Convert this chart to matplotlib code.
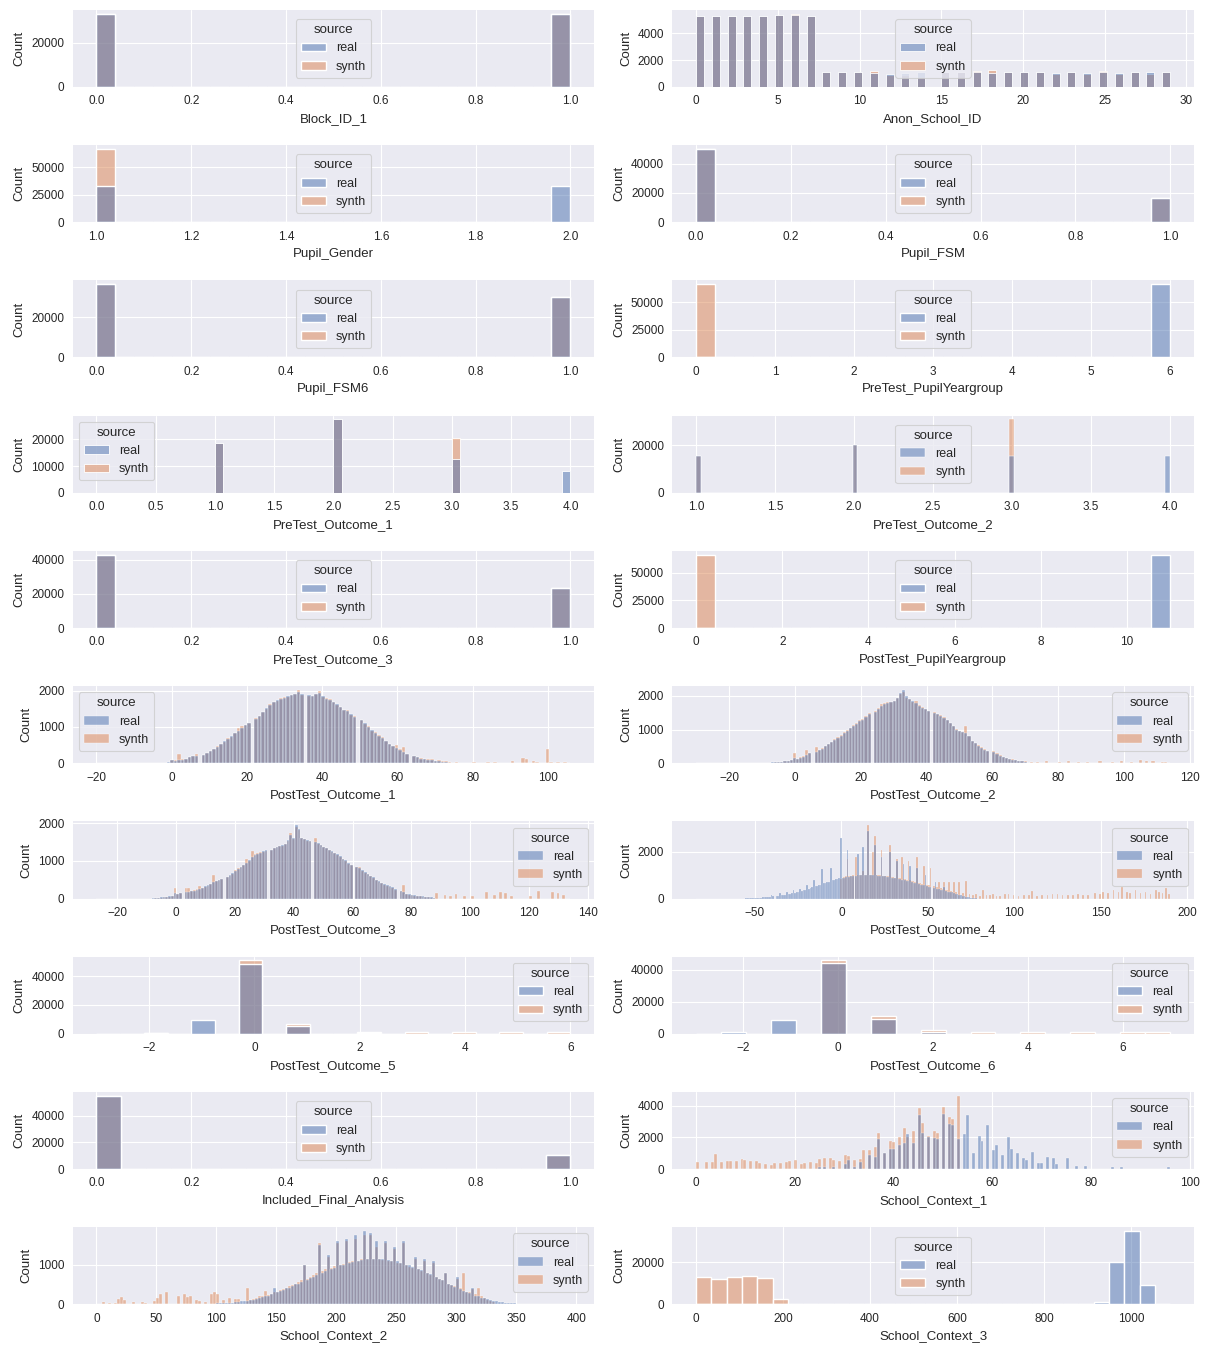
import numpy as np
import matplotlib
matplotlib.use("Agg")
import matplotlib.pyplot as plt
from matplotlib.colors import to_rgba
from matplotlib.patches import Patch

BLUE = "#4C72B0"
ORANGE = "#DD8452"

# ---- binary / small discrete columns ----
block_x = [0, 1]
block_real = [33300, 33300]
block_synth = [33300, 33300]

anon_x = list(range(30))
anon_real = [5300, 5250, 5300, 5300, 5300, 5350, 5350, 5250, 1100, 1100,
             1100, 1050, 1000, 1050, 1100, 1100, 1100, 1100, 1050, 1100,
             1100, 1100, 1050, 1100, 1050, 1100, 1050, 1100, 1100, 1100]
anon_synth = [5300, 5250, 5250, 5300, 5250, 5350, 5450, 5250, 1100, 1100,
              1100, 1200, 900, 900, 750, 1100, 1100, 1200, 1250, 1100,
              1100, 1100, 950, 1100, 950, 1200, 1000, 1100, 950, 1100]

gender_x = [1, 2]
gender_real = [33300, 33300]
gender_synth = [66600, 0]

fsm_x = [0, 1]
fsm_real = [50000, 16500]
fsm_synth = [50000, 16500]

fsm6_x = [0, 1]
fsm6_real = [36500, 30100]
fsm6_synth = [36500, 30100]

pre_year_x = [0, 6]
pre_year_real = [0, 66600]
pre_year_synth = [66600, 0]

pre1_x = [1, 2, 3, 4]
pre1_real = [18500, 27500, 12500, 8000]
pre1_synth = [18500, 27500, 20500, 0]

pre2_x = [1, 2, 3, 4]
pre2_real = [15500, 20000, 15500, 15500]
pre2_synth = [15500, 20000, 31000, 0]

pre3_x = [0, 1]
pre3_real = [43000, 23500]
pre3_synth = [43000, 23500]

post_year_x = [0, 11]
post_year_real = [0, 66600]
post_year_synth = [66600, 0]

# ---- PostTest_Outcome_1 (integer scores, first value at -4) ----
post1_start = -4
post1_real = [5, 10, 15, 30,
              80, 70, 90, 100, 110, 160, 190, 210, 240, 280,
              340, 390, 450, 520, 600, 680, 740, 820, 900, 980,
              1040, 1120, 1230, 1290, 1400, 1520, 1600, 1680, 1740, 1780,
              1800, 1840, 1880, 1900, 1960, 1900, 1880, 1850, 1900, 1930,
              1850, 1780, 1740, 1700, 1620, 1540, 1480, 1430, 1360, 1280,
              1180, 1100, 1000, 920, 840, 760, 690, 600, 520, 470,
              420, 360, 300, 250, 210, 170, 130, 110, 100, 80,
              60, 50, 40, 30, 20, 15]
post1_synth = [0, 5, 10, 20,
               90, 80, 250, 110, 120, 170, 200, 260, 230, 270,
               330, 380, 470, 530, 590, 700, 720, 830, 970, 1020,
               1060, 1100, 1250, 1300, 1420, 1500, 1620, 1700, 1720, 1800,
               1820, 1820, 1870, 1920, 2020, 1880, 1860, 1840, 1920, 1980,
               1830, 1800, 1760, 1680, 1600, 1560, 1470, 1480, 1340, 1300,
               1200, 1080, 1020, 900, 860, 780, 720, 620, 540, 480,
               500, 380, 450, 260, 200, 180, 140, 120, 110, 130,
               70, 100, 50, 60, 30, 20]
post1_tail_x = [76, 78, 80, 84, 86, 91, 93, 94, 96, 97, 100, 101, 103, 105, 106]
post1_tail_c = [30, 20, 30, 40, 30, 60, 150, 120, 60, 40, 400, 40, 30, 40, 20]

# ---- PostTest_Outcome_2 (first value at -10) ----
post2_start = -10
post2_real = [10, 15, 20, 25, 30, 40, 50, 60, 70, 90,
              150, 130, 170, 200, 260, 300, 340, 380, 430, 500,
              560, 620, 700, 760, 820, 900, 950, 1040, 1120, 1180,
              1250, 1300, 1380, 1450, 1530, 1620, 1700, 1760, 1800, 1820,
              1850, 1950, 2100, 2180, 2000, 1920, 1850, 1780, 1700, 1650,
              1600, 1560, 1500, 1450, 1400, 1350, 1300, 1200, 1100, 1000,
              950, 920, 900, 800, 650, 600, 520, 450, 400, 350,
              320, 280, 220, 180, 150, 130, 110, 90, 70, 60, 50]
post2_synth = [0, 10, 15, 20, 30, 35, 45, 55, 80, 100,
               300, 140, 180, 220, 380, 310, 480, 400, 440, 520,
               580, 640, 720, 780, 850, 920, 980, 1060, 1150, 1200,
               1280, 1320, 1400, 1480, 1560, 1640, 1750, 1780, 1810, 1830,
               1860, 1940, 2050, 2120, 1950, 1900, 1830, 1850, 1720, 1660,
               1620, 1560, 1520, 1460, 1420, 1360, 1290, 1210, 1120, 1020,
               960, 940, 1100, 820, 660, 610, 540, 470, 410, 370,
               370, 290, 240, 190, 160, 130, 130, 100, 80, 70, 60]
post2_tail_x = [72, 74, 77, 80, 83, 86, 89, 93, 96, 99, 102, 105, 107, 109, 112, 113]
post2_tail_c = [50, 40, 80, 40, 60, 40, 50, 70, 40, 60, 30, 90, 80, 70, 50, 30]

# ---- PostTest_Outcome_3 (first value at -8) ----
post3_start = -8
post3_real = [10, 15, 20, 30, 40, 50, 60, 80,
              150, 120, 140, 160, 180, 190, 210, 230, 260, 280,
              320, 350, 390, 430, 470, 500, 530, 580, 620, 680,
              730, 780, 830, 880, 950, 1020, 1100, 1150, 1180, 1220,
              1250, 1280, 1300, 1340, 1380, 1400, 1420, 1450, 1550, 1700,
              1600, 1950, 1850, 1620, 1580, 1560, 1540, 1500, 1470, 1430,
              1380, 1350, 1300, 1250, 1220, 1180, 1120, 1060, 1020, 950,
              900, 850, 800, 760, 700, 660, 600, 560, 500, 460,
              420, 380, 350, 320, 300, 250, 200, 160, 130, 110,
              100, 90, 80, 70, 60, 50, 40, 30, 20]
post3_synth = [0, 10, 15, 20, 30, 40, 50, 70,
               270, 110, 150, 290, 290, 200, 220, 240, 330, 270,
               300, 340, 380, 620, 460, 480, 520, 560, 600, 650,
               760, 800, 850, 900, 1050, 1000, 1250, 1180, 1200, 1230,
               1240, 1270, 1290, 1330, 1360, 1390, 1400, 1440, 1520, 1750,
               1580, 1900, 1820, 1600, 1570, 1540, 1530, 1600, 1450, 1410,
               1360, 1330, 1280, 1240, 1200, 1160, 1100, 1040, 1000, 930,
               880, 840, 850, 740, 690, 640, 590, 540, 490, 440,
               400, 360, 330, 300, 270, 230, 190, 350, 120, 100,
               90, 80, 70, 60, 50, 40, 30, 20, 20]
post3_tail_x = [89, 91, 93, 95, 98, 101, 105, 108, 110, 112, 114, 120, 123, 128, 130, 132]
post3_tail_c = [150, 100, 80, 130, 60, 60, 170, 100, 160, 150, 80, 80, 200, 160, 150, 100]

# ---- PostTest_Outcome_4 (real from -55, synth from 0) ----
post4_real_start = -55
post4_real = [5, 10, 10, 15, 20, 20, 30, 30, 40, 40,
              50, 80, 60, 70, 80, 150, 90, 100, 120, 220,
              130, 150, 160, 300, 180, 200, 220, 380, 240, 260,
              280, 420, 320, 350, 380, 600, 420, 450, 480, 800,
              520, 550, 580, 600, 1250, 650, 680, 700, 730, 1300,
              780, 800, 820, 850, 870, 2600, 880, 900, 920, 2100,
              930, 950, 960, 980, 1900, 1000, 1000, 2200, 1000, 1000,
              2900, 1000, 1000, 1000, 2300, 990, 980, 970, 1800, 960,
              950, 940, 930, 2000, 900, 880, 870, 1600, 850, 830,
              810, 1500, 780, 760, 740, 1400, 700, 680, 660, 1300,
              620, 600, 580, 560, 1000, 520, 500, 480, 460, 700,
              420, 400, 380, 360, 500, 320, 300, 280, 260, 300,
              220, 200, 180, 160, 140, 120, 100, 80, 60, 50,
              40, 30, 20, 10]
post4_synth_start = 0
post4_synth = [850, 900, 920, 950, 1700, 960, 980, 1000, 1800, 1000,
               1000, 1000, 1200, 1000, 1000, 3150, 1000, 1000, 2000, 2700,
               1000, 1000, 1000, 2100, 980, 970, 960, 950, 2300, 940,
               920, 900, 1700, 880, 860, 1800, 840, 820, 800, 1600,
               780, 760, 740, 720, 1800, 680, 660, 640, 1400, 600,
               580, 560, 1300, 520, 500, 480, 700, 440, 420, 700,
               380, 360, 700, 320, 300, 700]
post4_tail_x = [66, 68, 70, 72, 74, 76, 78, 80, 82, 84, 86, 88, 90, 92, 95, 97, 99,
                102, 105, 108, 110, 113, 116, 119, 122, 125, 128, 131, 134, 137,
                140, 143, 146, 149, 151, 154, 157, 160, 162, 165, 167, 170, 173,
                176, 179, 182, 184, 186, 188, 190]
post4_tail_c = [280, 700, 250, 750, 200, 150, 200, 120, 350, 130, 150, 200, 120, 100,
                180, 200, 150, 120, 170, 150, 330, 120, 140, 160, 200, 180, 130,
                150, 170, 200, 150, 130, 250, 180, 300, 250, 350, 300, 480, 300,
                250, 350, 250, 300, 200, 350, 300, 250, 450, 200]

# ---- PostTest_Outcome_5 / 6 ----
post5_x = [-2, -1, 0, 1, 2, 3, 4, 5, 6]
post5_real = [300, 9400, 48700, 5200, 300, 0, 0, 0, 0]
post5_synth = [500, 0, 51000, 7000, 1500, 1300, 1300, 1300, 1300]

post6_x = [-2, -1, 0, 1, 2, 3, 4, 5, 6, 7]
post6_real = [800, 8400, 44200, 9000, 1200, 0, 0, 0, 0, 0]
post6_synth = [0, 0, 45900, 10900, 2500, 1200, 1200, 1200, 1200, 1200]

included_x = [0, 1]
included_real = [55000, 10600]
included_synth = [55000, 10600]

# ---- School_Context_1 (real from 25, synth from 0) ----
sc1_real_start = 25
sc1_real = [100, 150, 0, 100, 0, 300, 550, 100, 450, 0,
            900, 750, 1900, 1000, 1300, 1300, 1500, 1650, 2200, 1650,
            3450, 2300, 2000, 1950, 1900, 3500, 2850, 2800, 1900, 2200,
            3400, 1000, 2100, 1800, 2800, 1200, 1500, 900, 2000, 1300,
            1000, 700, 600, 1100, 400, 350, 750, 700, 300, 0,
            700, 0, 200, 0, 200, 0, 0, 0, 0, 150,
            0, 150, 0, 0, 0, 0, 0, 0, 0, 0, 0, 150]
sc1_synth_start = 0
sc1_synth = [450, 0, 450, 420, 950, 420, 480, 480, 520, 650,
             550, 500, 480, 400, 330, 280, 380, 400, 420, 480,
             600, 330, 350, 450, 400, 650, 720, 680, 550, 480,
             900, 850, 600, 650, 1200, 1200, 1400, 2300, 1000, 1800,
             1700, 2000, 2600, 2000, 2400, 3850, 2900, 2100, 2400, 2300,
             3900, 3300, 3200, 4650]

# ---- School_Context_2 (counts per 2.5-wide bin) ----
sc2_real_start = 100
sc2_real = [20, 20, 30, 30, 40, 40, 50, 60, 70, 80,
            90, 100, 120, 140, 160, 180, 200, 220, 250, 400,
            300, 330, 360, 400, 420, 460, 500, 520, 560, 1000,
            620, 660, 700, 740, 1500, 800, 830, 1250, 880, 920,
            1600, 980, 1000, 1650, 1050, 1060, 1750, 1100, 1120, 1850,
            1150, 1800, 1150, 1600, 1150, 1140, 1600, 1120, 1100, 1450,
            1080, 1050, 1600, 1000, 980, 950, 1200, 900, 870, 1150,
            800, 760, 1100, 700, 650, 600, 800, 520, 480, 440,
            700, 380, 340, 300, 280, 400, 220, 200, 170, 150,
            130, 110, 90, 80, 60, 50, 40, 30, 25, 20,
            15, 10, 10, 8, 5]
sc2_synth_start = 127.5
sc2_synth = [110, 130, 170, 200, 220, 330, 240, 270, 300, 320,
             350, 380, 420, 450, 480, 520, 560, 600, 1000, 650,
             700, 750, 790, 1550, 850, 880, 1200, 920, 960, 1550,
             1000, 1020, 1600, 1070, 1080, 1650, 1100, 1130, 1750, 1150,
             1750, 1150, 1450, 1130, 1120, 1550, 1100, 1080, 1400, 1050,
             1030, 1550, 980, 950, 920, 1150, 880, 850, 1100, 780,
             740, 1050, 680, 640, 600, 780, 520, 480, 450, 650,
             400, 800, 320, 300, 380, 250, 420, 200, 150, 120,
             90, 60]
sc2_low_x = [5, 10, 15, 17.5, 20, 22.5, 30, 37.5, 40, 47.5, 50, 52.5, 57.5, 67.5,
             72.5, 75, 77.5, 82.5, 85, 90, 95, 97.5, 100, 105, 110, 115, 117.5, 125]
sc2_low_c = [60, 30, 40, 130, 180, 100, 50, 60, 40, 80, 150, 250, 300, 200,
             250, 180, 220, 120, 80, 60, 250, 300, 250, 100, 150, 130, 140, 420]

# ---- School_Context_3 (bin centres) ----
sc3_real_x = [932, 967, 1002, 1037, 1073]
sc3_real = [1000, 20000, 34800, 9200, 300]
sc3_synth_x = [18, 53, 88, 123, 158, 193]
sc3_synth = [12800, 12200, 12800, 13600, 12400, 2500]


def run(start, counts, extra_x=(), extra_c=()):
    x = np.concatenate([np.arange(start, start + len(counts)), extra_x])
    return x, np.concatenate([counts, extra_c])


def grid(start, step, counts):
    # values sit in the middle of each 2.5-wide bin
    return np.arange(len(counts)) * step + start + step / 2, np.asarray(counts)


sc2_synth_x = np.concatenate([np.asarray(sc2_low_x) + 1.25, grid(sc2_synth_start, 2.5, sc2_synth)[0]])
sc2_synth_c = np.concatenate([sc2_low_c, sc2_synth])

f1 = np.linspace(0, 1, 6)
panels = [
    ("Block_ID_1", (block_x, block_real), (block_x, block_synth), (0, 1, 25), f1, [0, 20000], "center"),
    ("Anon_School_ID", (anon_x, anon_real), (anon_x, anon_synth), (0, 29, 60), np.arange(0, 31, 5), [0, 2000, 4000], "center"),
    ("Pupil_Gender", (gender_x, gender_real), (gender_x, gender_synth), (1, 2, 25), np.linspace(1, 2, 6), [0, 25000, 50000], "center"),
    ("Pupil_FSM", (fsm_x, fsm_real), (fsm_x, fsm_synth), (0, 1, 25), f1, [0, 20000, 40000], "center"),
    ("Pupil_FSM6", (fsm6_x, fsm6_real), (fsm6_x, fsm6_synth), (0, 1, 25), f1, [0, 20000], "center"),
    ("PreTest_PupilYeargroup", (pre_year_x, pre_year_real), (pre_year_x, pre_year_synth), (0, 6, 25), np.arange(0, 7), [0, 25000, 50000], "center"),
    ("PreTest_Outcome_1", (pre1_x, pre1_real), (pre1_x, pre1_synth), (0, 4, 56), np.arange(0, 4.01, 0.5), [0, 10000, 20000], "upper left"),
    ("PreTest_Outcome_2", (pre2_x, pre2_real), (pre2_x, pre2_synth), (1, 4, 100), np.arange(1, 4.01, 0.5), [0, 20000], "center"),
    ("PreTest_Outcome_3", (pre3_x, pre3_real), (pre3_x, pre3_synth), (0, 1, 25), f1, [0, 20000, 40000], "center"),
    ("PostTest_PupilYeargroup", (post_year_x, post_year_real), (post_year_x, post_year_synth), (0, 11, 25), np.arange(0, 11, 2), [0, 25000, 50000], "center"),
    ("PostTest_Outcome_1", run(post1_start, post1_real), run(post1_start, post1_synth, post1_tail_x, post1_tail_c),
     (-20, 106, 135), np.arange(-20, 101, 20), [0, 1000, 2000], "upper left"),
    ("PostTest_Outcome_2", run(post2_start, post2_real), run(post2_start, post2_synth, post2_tail_x, post2_tail_c),
     (-30, 114, 152), np.arange(-20, 121, 20), [0, 1000, 2000], "upper right"),
    ("PostTest_Outcome_3", run(post3_start, post3_real), run(post3_start, post3_synth, post3_tail_x, post3_tail_c),
     (-27, 134, 172), np.arange(-20, 141, 20), [0, 1000, 2000], "upper right"),
    ("PostTest_Outcome_4", run(post4_real_start, post4_real), run(post4_synth_start, post4_synth, post4_tail_x, post4_tail_c),
     (-84, 190, 280), np.arange(-50, 201, 50), [0, 2000], "upper right"),
    ("PostTest_Outcome_5", (post5_x, post5_real), (post5_x, post5_synth), (-3, 6, 20), np.arange(-2, 7, 2), [0, 20000, 40000], "upper right"),
    ("PostTest_Outcome_6", (post6_x, post6_real), (post6_x, post6_synth), (-3, 7, 19), np.arange(-2, 7, 2), [0, 20000, 40000], "upper right"),
    ("Included_Final_Analysis", (included_x, included_real), (included_x, included_synth), (0, 1, 19), f1, [0, 20000, 40000], "center"),
    ("School_Context_1", run(sc1_real_start, sc1_real), run(sc1_synth_start, sc1_synth),
     (0, 96, 160), np.arange(0, 101, 20), [0, 2000, 4000], "upper right"),
    ("School_Context_2", grid(sc2_real_start, 2.5, sc2_real), (sc2_synth_x, sc2_synth_c),
     (0, 395, 158), np.arange(0, 401, 50), [0, 1000], "upper right"),
    ("School_Context_3", (sc3_real_x, sc3_real), (sc3_synth_x, sc3_synth),
     (0, 1090, 31), np.arange(0, 1001, 200), [0, 20000], "center"),
]

plt.style.use("seaborn-v0_8-darkgrid")
plt.rcParams["font.family"] = ["Liberation Sans", "DejaVu Sans"]
plt.rcParams["axes.labelsize"] = 9.5
plt.rcParams["xtick.labelsize"] = 8.5
plt.rcParams["ytick.labelsize"] = 8.5
plt.rcParams["xtick.major.pad"] = 6
plt.rcParams["ytick.major.pad"] = 6

fig, axes = plt.subplots(10, 2, figsize=(12.12, 13.46), dpi=100)
fig.subplots_adjust(left=0.060, right=0.985, bottom=0.031, top=0.9926, wspace=0.15, hspace=0.756)
AX_W_PX = 521

for ax, (name, real, synth, (lo, hi, n), xticks, yticks, loc) in zip(axes.flat, panels):
    edges = np.linspace(lo, hi, n + 1)
    # outline gets thinner for narrow bins
    bin_pts = (hi - lo) / n / (1.1 * (hi - lo)) * AX_W_PX * 0.72
    lw = min(1.0, 0.1 * bin_pts)
    # synth first so the real bars sit on top
    for (x, c), color in ((synth, ORANGE), (real, BLUE)):
        ax.hist(x, bins=edges, weights=c, facecolor=to_rgba(color, 0.5),
                edgecolor="white", linewidth=lw)
    xlim, ylim = ax.get_xlim(), ax.get_ylim()
    ax.set_xticks(xticks)
    ax.set_yticks(yticks)
    ax.set_xlim(xlim)
    ax.set_ylim(ylim)
    ax.set_xlabel(name)
    ax.set_ylabel("Count")
    handles = [Patch(facecolor=to_rgba(BLUE, 0.5), edgecolor="white", linewidth=lw),
               Patch(facecolor=to_rgba(ORANGE, 0.5), edgecolor="white", linewidth=lw)]
    leg = ax.legend(handles, ["real", "synth"], title="source", loc=loc,
                    fontsize=9, title_fontsize=9.5, frameon=True, framealpha=0.8,
                    facecolor="#EAEAF2", edgecolor="0.8")
    leg.get_frame().set_linewidth(0.8)

fig.savefig("out.png", dpi=100)
